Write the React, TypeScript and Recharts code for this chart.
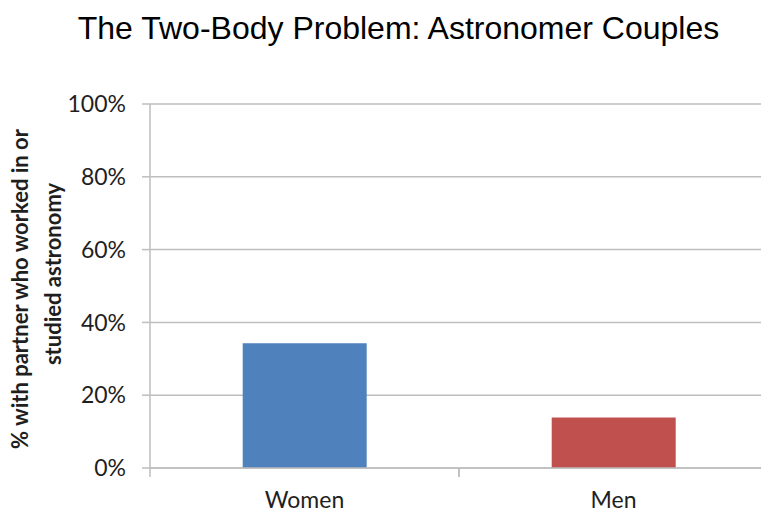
import { BarChart, Bar, XAxis, YAxis, CartesianGrid, Cell } from "recharts"

// Categories and values (percent with partner in astronomy)
const categories = ["Women", "Men"]
const shares = [34.3, 13.9]
const barColors = ["#4F81BD", "#C0504D"]
const yTicks = [0, 20, 40, 60, 80, 100]

const data = categories.map((name, i) => ({ name, value: shares[i] }))

const GRID = "#BEBEBE"
const BAND = 309

function CategoryTick(props: any) {
  const { x, y, payload } = props
  // y is the axis line plus default tick size (6) and tick margin (2)
  const top = y - 8
  return (
    <g>
      {/* Excel style tick marks sit on category boundaries */}
      <line x1={x - BAND / 2} y1={top} x2={x - BAND / 2} y2={top + 9} stroke={GRID} strokeWidth={1.5} />
      <line x1={x + BAND / 2} y1={top} x2={x + BAND / 2} y2={top + 9} stroke={GRID} strokeWidth={1.5} />
      <text x={x} y={top + 40} textAnchor="middle" fontFamily="Lato" fontSize={23} fill="#1f1f1f">
        {payload.value}
      </text>
    </g>
  )
}

export default function App() {
  return (
    <div
      style={{
        position: "absolute",
        left: 0,
        top: 0,
        width: 761,
        height: 511,
        overflow: "hidden",
        background: "#fff",
      }}
    >
      <div
        style={{
          position: "absolute",
          left: 0,
          top: 12,
          width: 761,
          textAlign: "center",
          fontFamily: "Liberation Sans",
          fontSize: 32,
          lineHeight: "32px",
          paddingLeft: 36,
          boxSizing: "border-box",
          color: "#000",
        }}
      >
        The Two-Body Problem: Astronomer Couples
      </div>
      <svg style={{ position: "absolute", left: 0, top: 0 }} width={100} height={511}>
        <text
          transform="translate(28,289) rotate(-90)"
          textAnchor="middle"
          fontFamily="Lato"
          fontWeight="bold"
          fontSize={22}
          fill="#1f1f1f"
        >
          % with partner who worked in or
        </text>
        <text
          transform="translate(61,274) rotate(-90)"
          textAnchor="middle"
          fontFamily="Lato"
          fontWeight="bold"
          fontSize={22}
          fill="#1f1f1f"
        >
          studied astronomy
        </text>
      </svg>
      <div style={{ position: "absolute", left: 0, top: 0 }}>
        <BarChart
          width={780}
          height={511}
          data={data}
          margin={{ top: 104, right: 12, left: 0, bottom: 0 }}
          barCategoryGap="30%"
        >
          <CartesianGrid vertical={false} stroke={GRID} strokeWidth={1.5} />
          <XAxis
            dataKey="name"
            height={43}
            axisLine={{ stroke: GRID, strokeWidth: 1.5 }}
            tickLine={false}
            tick={<CategoryTick />}
            interval={0}
          />
          <YAxis
            width={150}
            domain={[0, 100]}
            ticks={yTicks}
            tickFormatter={(v: number) => `${v}%`}
            axisLine={{ stroke: GRID, strokeWidth: 1.5 }}
            tickLine={{ stroke: GRID, strokeWidth: 1.5 }}
            tickSize={8}
            tickMargin={16}
            tick={{ fontFamily: "Lato", fontSize: 23, fill: "#1f1f1f" }}
          />
          <Bar dataKey="value" isAnimationActive={false}>
            {data.map((d, i) => (
              <Cell key={d.name} fill={barColors[i]} />
            ))}
          </Bar>
        </BarChart>
      </div>
    </div>
  )
}
